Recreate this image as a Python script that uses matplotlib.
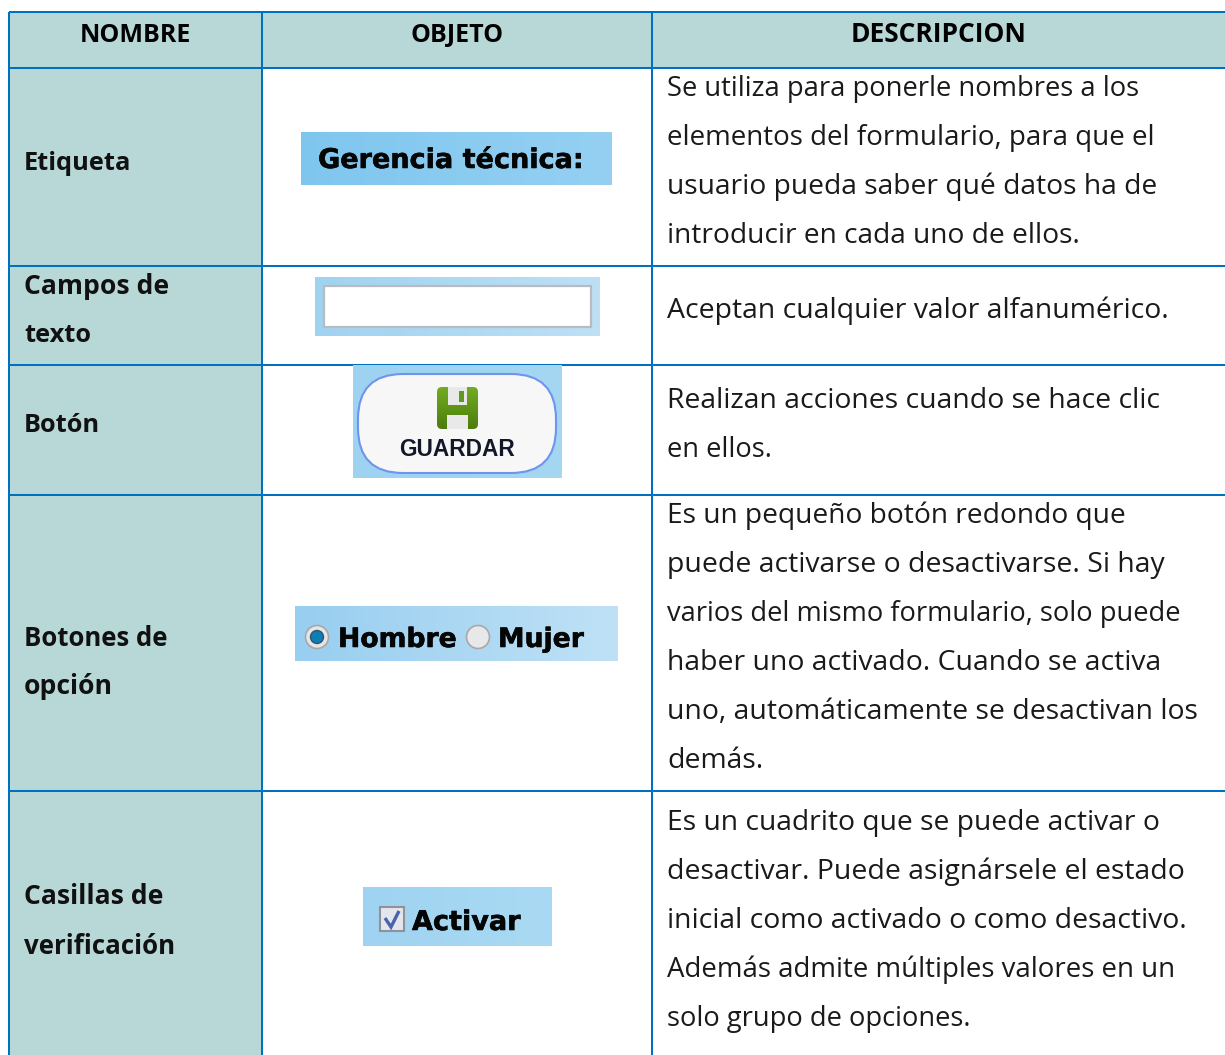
import numpy as np
from matplotlib import pyplot as plt
from matplotlib import patheffects as pe
from matplotlib.colors import to_rgb
from matplotlib.patches import Rectangle, FancyBboxPatch, Circle, PathPatch
from matplotlib.path import Path

headers = ['NOMBRE', 'OBJETO', 'DESCRIPCION']
names = [['Etiqueta'], ['Campos de', 'texto'], ['Botón'], ['Botones de', 'opción'],
         ['Casillas de', 'verificación']]
descriptions = [
    ['Se utiliza para ponerle nombres a los', 'elementos del formulario, para que el',
     'usuario pueda saber qué datos ha de', 'introducir en cada uno de ellos.'],
    ['Aceptan cualquier valor alfanumérico.'],
    ['Realizan acciones cuando se hace clic', 'en ellos.'],
    ['Es un pequeño botón redondo que', 'puede activarse o desactivarse. Si hay',
     'varios del mismo formulario, solo puede', 'haber uno activado. Cuando se activa',
     'uno, automáticamente se desactivan los', 'demás.'],
    ['Es un cuadrito que se puede activar o', 'desactivar. Puede asignársele el estado',
     'inicial como activado o como desactivo.', 'Además admite múltiples valores en un',
     'solo grupo de opciones.'],
]

# layout in image pixels
col_x = [9, 262, 652, 1226]
row_y = [12, 67.5, 266, 365, 495, 791, 1056]
name_y = [163, 287, 426, 638, 897]
desc_y = [89, 311, 401, 516, 823]
# right edge of each line, the substitute font runs a bit differently per line
name_end = [[128], [175, 88], [97], [168, 114], [164, 175]]
desc_end = [[1138, 1154, 1157, 1079], [1170], [1176, 771],
            [1124, 1164, 1176, 1161, 1198, 763], [1160, 1183, 1201, 1174, 950]]
line_h = 49
BLUE = '#0070c0'
TEAL = '#b8d8d8'
FONT = 'Open Sans'

fig = plt.figure(figsize=(12.25, 10.55), dpi=100)
ax = fig.add_axes([0, 0, 1, 1])
ax.set_xlim(0, 1225)
ax.set_ylim(1055, 0)
ax.axis('off')
renderer = fig.canvas.get_renderer()


def grad(x0, x1, y0, y1, c0, c1, vertical=False, clip=None, z=2):
    c0 = np.array(to_rgb(c0))
    c1 = np.array(to_rgb(c1))
    t = np.linspace(0, 1, 64)
    t = t[:, None, None] if vertical else t[None, :, None]
    im = ax.imshow(c0 + (c1 - c0) * t, extent=[x0, x1, y1, y0], aspect='auto', zorder=z,
                   interpolation='bilinear')
    if clip is not None:
        im.set_clip_path(clip)
    # imshow resets the limits
    ax.set_xlim(0, 1225)
    ax.set_ylim(1055, 0)


def heavy(x, y, s, size=19.5, w=0.4):
    t = ax.text(x, y, s, fontsize=size, fontweight='bold', family='DejaVu Sans',
                ha='left', va='center', color='#050505', zorder=5)
    t.set_path_effects([pe.withStroke(linewidth=w, foreground='#050505')])


def fitted(x, y, s, end, size, **kw):
    # small nudge only, more than this shows as mixed text sizes
    t = ax.text(x, y, s, family=FONT, fontsize=size, ha='left', va='center', **kw)
    w = t.get_window_extent(renderer).width
    t.set_fontsize(size * np.clip((end - x) / w, 0.98, 1.02))
    return t


# fills
ax.add_patch(Rectangle((col_x[0], row_y[0]), col_x[3] - col_x[0], row_y[1] - row_y[0], fc=TEAL, ec='none'))
ax.add_patch(Rectangle((col_x[0], row_y[1]), col_x[1] - col_x[0], row_y[6] - row_y[1], fc=TEAL, ec='none'))

# grid
for y in row_y[:-1]:
    ax.plot([col_x[0], col_x[3]], [y, y], color=BLUE, lw=1.45, solid_capstyle='butt', zorder=1)
for x in col_x[:-1]:
    ax.plot([x, x], [row_y[0], row_y[6]], color=BLUE, lw=1.45, solid_capstyle='butt', zorder=1)

# text
header_x = [135.5, 457, 939]
header_size = [18, 18, 19]
for h, x, size in zip(headers, header_x, header_size):
    ax.text(x, 35, h, family=FONT, fontweight='bold', fontsize=size, ha='center', va='center',
            color='black')
for lines, ends, y0 in zip(names, name_end, name_y):
    for j, (s, e) in enumerate(zip(lines, ends)):
        fitted(24, y0 + j * line_h, s, e, 18.7, fontweight='bold', color='#111111')
for lines, ends, y0 in zip(descriptions, desc_end, desc_y):
    for j, (s, e) in enumerate(zip(lines, ends)):
        fitted(667, y0 + j * line_h, s, e, 20, color='#1a1a1a')

# etiqueta
grad(301, 612, 132, 185, '#7fc6ef', '#95d0f2')
heavy(318, 161, 'Gerencia técnica:', 19.5)

# campo de texto
grad(315, 600, 277, 336, '#a0d3f0', '#bde0f5')
ax.add_patch(Rectangle((324, 286), 267, 41, fc='white', ec='#b8bcc2', lw=1.6, zorder=3))

# boton
grad(353, 562, 365, 478, '#9dd2f1', '#a5d7f3')
ax.add_patch(FancyBboxPatch((358 + 45, 374 + 45), 198 - 90, 99 - 90, boxstyle='round,pad=45',
                            fc='#f7f7f7', ec='#6f94ee', lw=1.5, zorder=3))
floppy = FancyBboxPatch((442, 392), 31, 32, boxstyle='round,pad=5', fc='none', ec='none', zorder=4)
ax.add_patch(floppy)
grad(437, 478, 387, 429, '#74ab22', '#4c7d0c', vertical=True, clip=floppy, z=4)
ax.add_patch(Rectangle((448, 387), 19, 18, fc='#e9e9e9', ec='none', zorder=5))
ax.add_patch(Rectangle((459, 391), 5, 11, fc='#5e9a1c', ec='none', zorder=6))
ax.add_patch(Rectangle((447, 415), 21, 14, fc='#e9e9e9', ec='none', zorder=5))
ax.text(457.5, 449, 'GUARDAR', family='Liberation Sans', fontweight='bold', fontsize=16.3,
        ha='center', va='center', color='#10182a', zorder=5)

# radio
grad(295, 618, 606, 661, '#98cef0', '#bfe1f6')
ax.add_patch(Circle((317, 637), 11.5, fc='#e4e6e8', ec='#a8a8a8', lw=1.2, zorder=3))
ax.add_patch(Circle((317, 637), 6.5, fc='#0d7fb5', ec='#33536b', lw=1, zorder=4))
ax.add_patch(Circle((478, 637), 11.5, fc='#e8e8ea', ec='#a8a8a8', lw=1.2, zorder=3))
heavy(338, 640, 'Hombre', 19.2)
heavy(498, 640, 'Mujer', 19.2)

# casilla
grad(363, 552, 887, 946, '#9fd3f1', '#aadaf3')
ax.add_patch(Rectangle((380, 907), 24, 24, fc='#e4e6ee', ec='#8f9399', lw=1.5, zorder=3))
ax.add_patch(PathPatch(Path([(385, 918), (391, 927), (399, 911)]), fc='none', ec='#4a63ad', lw=2.4, zorder=4))
heavy(412, 923, 'Activar', 19.5)

fig.savefig('out.png', dpi=100)
